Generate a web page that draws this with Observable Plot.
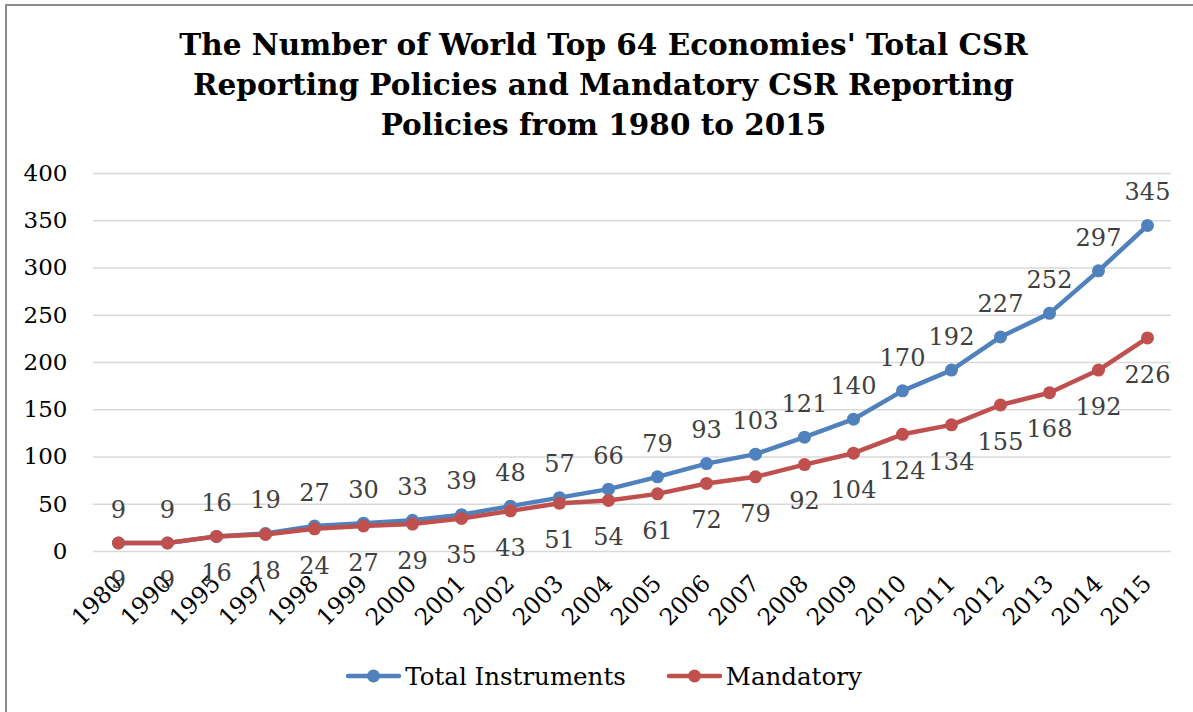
<!DOCTYPE html>
<html>
<head>
<meta charset="utf-8">
<script src="https://cdn.jsdelivr.net/npm/d3@7"></script>
<script src="https://cdn.jsdelivr.net/npm/@observablehq/plot@0.6"></script>
<style>
  html, body { margin: 0; padding: 0; background: #fff; overflow: hidden; }
  #page { width: 1193px; height: 712px; overflow: hidden; position: relative; font-family: "DejaVu Serif", serif; background: #fff; }
  #frame { position: absolute; left: 5px; top: 4px; width: 1188px; height: 708px; border-left: 2px solid #8c8c8c; border-top: 2px solid #8c8c8c; box-sizing: border-box; pointer-events: none; }
  #title { height: 150px; box-sizing: border-box; padding-top: 25px; text-align: center; font-weight: bold; font-size: 29.5px; line-height: 40px; color: #000; padding-left: 14px; white-space: nowrap; }
  #chart svg { display: block; }
  #legend { height: 72px; display: flex; justify-content: center; align-items: center; gap: 40px; font-size: 24.5px; color: #000; padding-left: 14px; }
  .item { display: flex; align-items: center; gap: 3px; }
</style>
</head>
<body>
<div id="page">
<div id="frame"></div>
<div id="title">The Number of World Top 64 Economies' Total CSR<br>Reporting Policies and Mandatory CSR Reporting<br>Policies from 1980 to 2015</div>
<div id="chart"></div>
<div id="legend"></div>
</div>
<script>
// Years on the category axis
const years = ["1980","1990","1995","1997","1998","1999","2000","2001","2002","2003","2004","2005","2006","2007","2008","2009","2010","2011","2012","2013","2014","2015"];
// Total CSR reporting instruments
const totalInstruments = [9,9,16,19,27,30,33,39,48,57,66,79,93,103,121,140,170,192,227,252,297,345];
// Mandatory CSR reporting instruments
const mandatory = [9,9,16,18,24,27,29,35,43,51,54,61,72,79,92,104,124,134,155,168,192,226];
// Value axis ticks
const yTicks = [0,50,100,150,200,250,300,350,400];

const seriesNames = ["Total Instruments", "Mandatory"];
const seriesColors = ["#4F81BD", "#C0504D"];

const totalRows = years.map((year, i) => ({year, value: totalInstruments[i]}));
const mandatoryRows = years.map((year, i) => ({year, value: mandatory[i]}));

const font = "DejaVu Serif, serif";

const chart = Plot.plot({
  width: 1193,
  height: 490,
  marginTop: 23,
  marginBottom: 89,
  marginLeft: 93,
  marginRight: 22,
  style: {fontFamily: font, background: "transparent", overflow: "visible"},
  x: {type: "point", domain: years, padding: 0.5},
  y: {domain: [0, 400]},
  marks: [
    Plot.gridY(yTicks, {stroke: "#d9d9d9", strokeOpacity: 1, strokeWidth: 1.5}),
    Plot.axisY(yTicks, {tickSize: 0, tickPadding: 26, fontSize: 23, fill: "#000", label: null}),
    Plot.axisX({tickSize: 0, tickRotate: -45, tickPadding: 28, fontSize: 23.5, fill: "#000", label: null}),
    Plot.line(totalRows, {x: "year", y: "value", stroke: seriesColors[0], strokeWidth: 4.5}),
    Plot.dot(totalRows, {x: "year", y: "value", r: 6.5, fill: seriesColors[0]}),
    Plot.line(mandatoryRows, {x: "year", y: "value", stroke: seriesColors[1], strokeWidth: 4.5}),
    Plot.dot(mandatoryRows, {x: "year", y: "value", r: 6.5, fill: seriesColors[1]}),
    Plot.text(totalRows, {x: "year", y: "value", text: d => String(d.value), dy: -33, fontSize: 24, fill: "#404040"}),
    Plot.text(mandatoryRows, {x: "year", y: "value", text: d => String(d.value), dy: 37, fontSize: 24, fill: "#404040"})
  ]
});
document.getElementById("chart").append(chart);

// Legend: line-with-marker swatch followed by the series name
const legend = document.getElementById("legend");
seriesNames.forEach((name, i) => {
  const item = document.createElement("div");
  item.className = "item";
  item.innerHTML = `<svg width="57" height="16"><line x1="3" x2="54" y1="8" y2="8" stroke="${seriesColors[i]}" stroke-width="4.5" stroke-linecap="round"/><circle cx="28.5" cy="8" r="6.5" fill="${seriesColors[i]}"/></svg><span>${name}</span>`;
  legend.append(item);
});
</script>
</body>
</html>
